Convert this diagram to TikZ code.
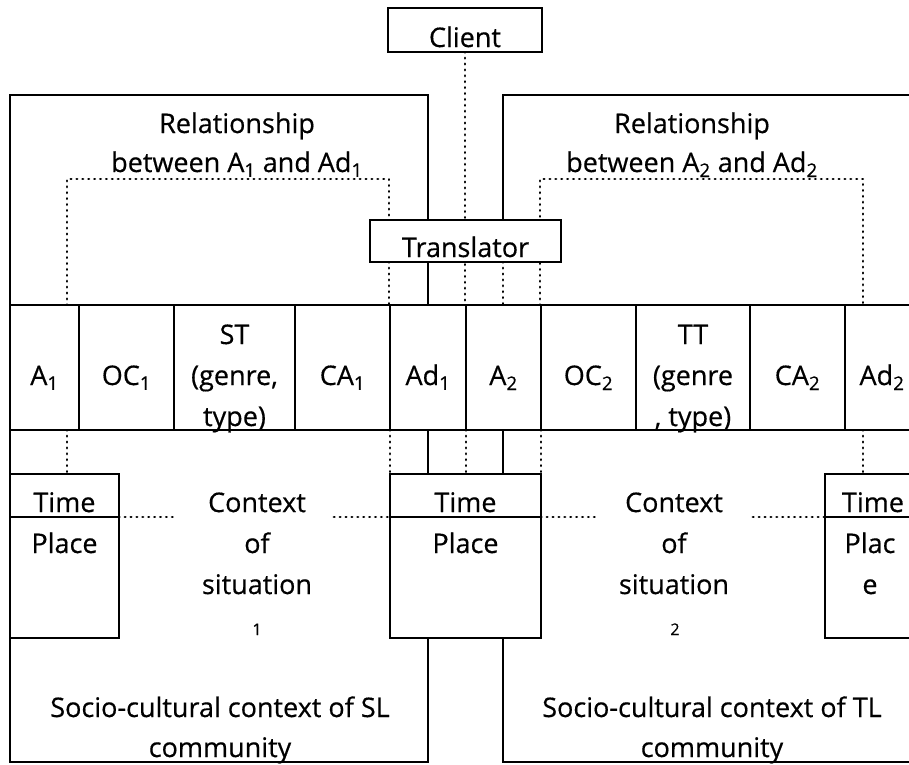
\documentclass[tikz,border=0pt]{standalone}
\usepackage{fontspec}
\setmainfont{Open Sans}[BoldFont=Open Sans, BoldFeatures={FakeBold=0.45}]
\newcommand\lo[1]{\textsubscript{#1}}
\begin{document}
\begin{tikzpicture}[x=1pt,y=-1pt,
  ln/.style={line width=2pt, line cap=rect},
  dotln/.style={line width=2.8pt, dash pattern=on 0.4pt off 5.5pt, line cap=round},
  box/.style={draw, line width=2pt, fill=white, inner sep=0pt},
  txt/.style={font=\fontsize{27}{41}\selectfont\bfseries, align=center, inner sep=0pt, anchor=base},
  smalltxt/.style={font=\fontsize{16}{16}\selectfont\bfseries, inner sep=0pt, anchor=base},
]
\useasboundingbox (0,0) rectangle (909,764);

% outer community boxes
\draw[ln] (428,220) -- (428,95) -- (10,95) -- (10,762) -- (428,762) -- (428,638);
\draw[ln] (428,262) -- (428,305);
\draw[ln] (428,430) -- (428,474);
\draw[ln] (503,220) -- (503,95) -- (925,95);
\draw[ln] (503,430) -- (503,474);
\draw[ln] (503,638) -- (503,762) -- (925,762);

% dotted relations
\coordinate (cl) at (465,52);
\coordinate (tbl) at (465,305);
\draw[dotln] (cl) -- (tbl);
\draw[dotln] (67,305) -- (67,179) -- (389,179) -- (389,305);
\draw[dotln] (540,305) -- (540,179) -- (863,179) -- (863,305);
\draw[dotln] (503,262) -- (503,305);
\foreach \x in {67,390,466,541,863} \draw[dotln] (\x,430) -- (\x,474);
\draw[dotln] (119,517) -- (173,517);
\draw[dotln] (334,517) -- (390,517);
\draw[dotln] (541,517) -- (595,517);
\draw[dotln] (753,517) -- (825,517);

% client and translator
\node[box, minimum width=154pt, minimum height=44pt] (client) at (465,30) {};
\node[txt] (clientt) at (465,47) {Client};
\node[box, minimum width=191pt, minimum height=42pt] (transl) at (465.5,241) {};
\node[txt] (translt) at (465.5,257) {Translator};

% relationship texts (base = last line)
\node[txt, font=\fontsize{27}{39}\selectfont\bfseries] (rel1) at (237,172) {Relationship\\between A\lo{1} and Ad\lo{1}};
\node[txt, font=\fontsize{27}{39}\selectfont\bfseries] (rel2) at (692,172) {Relationship\\between A\lo{2} and Ad\lo{2}};

% table cells
\foreach \n/\cx/\w in {c1/44.5/69, c2/126.5/95, c3/234.5/121, c4/342.5/95, c5/428/76, c6/503.5/75, c7/588.5/95, c8/693/114, c9/797.5/95, c10/885/80}
  \node[box, minimum width=\w pt, minimum height=125pt] (\n) at (\cx,367.5) {};
\node[txt] at (44.5,385) {A\lo{1}};
\node[txt] at (126.5,385) {OC\lo{1}};
\node[txt] at (234.5,426) {ST\\(genre,\\type)};
\node[txt] at (342.5,385) {CA\lo{1}};
\node[txt] at (428,385) {Ad\lo{1}};
\node[txt] at (503.5,385) {A\lo{2}};
\node[txt] at (588.5,385) {OC\lo{2}};
\node[txt] at (693,426) {TT\\(genre\\, type)};
\node[txt] at (797.5,385) {CA\lo{2}};
\node[txt] at (882,385) {Ad\lo{2}};

% time / place boxes
\node[box, minimum width=109pt, minimum height=43pt] (t1) at (64.5,495.5) {};
\node[box, minimum width=109pt, minimum height=121pt] (p1) at (64.5,577.5) {};
\node[box, minimum width=151pt, minimum height=43pt] (t2) at (465.5,495.5) {};
\node[box, minimum width=151pt, minimum height=121pt] (p2) at (465.5,577.5) {};
\node[box, minimum width=100pt, minimum height=43pt] (t3) at (875,495.5) {};
\node[box, minimum width=100pt, minimum height=121pt] (p3) at (875,577.5) {};
\node[txt] at (64.5,512) {Time};
\node[txt] at (64.5,553) {Place};
\node[txt] at (465.5,512) {Time};
\node[txt] at (465.5,553) {Place};
\node[txt] at (873,512) {Time};
\node[txt] at (870,594) {Plac\\e};

% context of situation
\node[txt] (cs1) at (257,594) {Context\\of\\situation};
\node[smalltxt] at (257,635) {1};
\node[txt] (cs2) at (674,594) {Context\\of\\situation};
\node[smalltxt] at (675,635) {2};

% socio-cultural
\node[txt, font=\fontsize{27}{40}\selectfont\bfseries] (sc1) at (220,757) {Socio-cultural context of SL\\community};
\node[txt, font=\fontsize{27}{40}\selectfont\bfseries] (sc2) at (712,757) {Socio-cultural context of TL\\community};
\end{tikzpicture}
\end{document}
